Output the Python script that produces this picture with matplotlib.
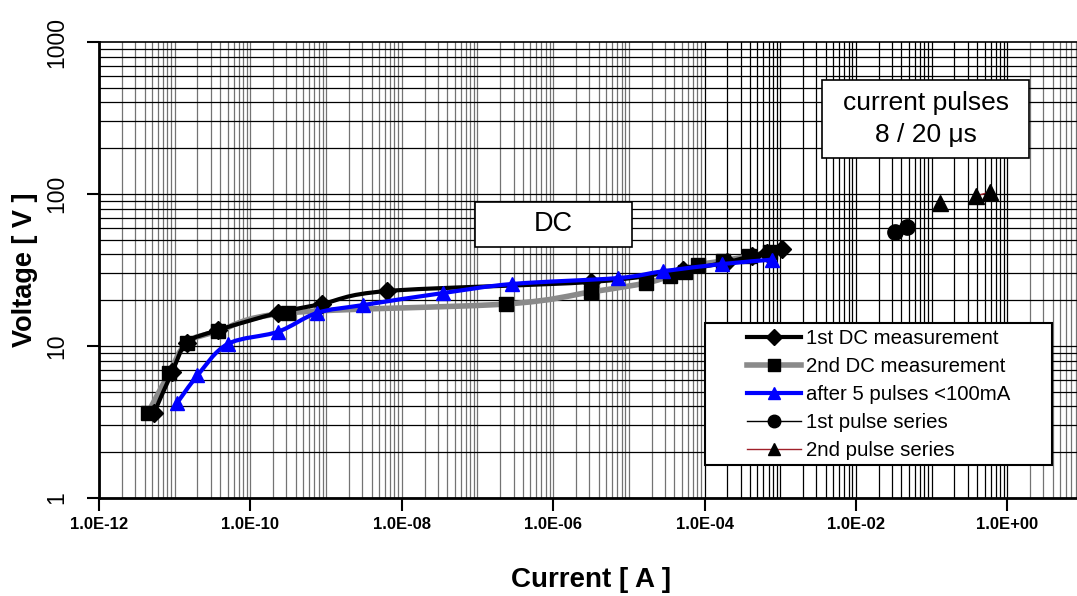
import numpy as np
import matplotlib
matplotlib.use("Agg")
import matplotlib.pyplot as plt
from matplotlib.patches import Rectangle, PathPatch
from matplotlib.path import Path
from matplotlib.lines import Line2D
from matplotlib.ticker import FixedLocator, NullLocator, FuncFormatter

plt.rcParams['font.family'] = ['Liberation Sans', 'DejaVu Sans']

# data (current in A, voltage in V)
dc1_i = [5.3e-12, 9.2e-12, 1.45e-11, 3.7e-11, 2.3e-10, 8.8e-10, 6.4e-9,
         3.2e-6, 5.2e-5, 2.0e-4, 4.2e-4, 6.7e-4, 1.05e-3]
dc1_v = [3.6, 6.7, 10.5, 12.7, 16.5, 18.9, 23.0,
         26.4, 31.6, 35.7, 39.1, 40.9, 43.5]

dc2_i = [4.4e-12, 8.4e-12, 1.45e-11, 3.7e-11, 3.1e-10, 2.4e-7, 3.2e-6,
         1.7e-5, 3.5e-5, 5.5e-5, 8.2e-5, 1.75e-4, 3.9e-4, 7.3e-4]
dc2_v = [3.6, 6.6, 10.5, 12.5, 16.5, 18.9, 22.7,
         26.0, 28.9, 30.7, 34.1, 36.3, 39.1, 41.5]

after_i = [1.07e-11, 2.0e-11, 5.0e-11, 2.3e-10, 7.6e-10, 3.1e-9, 3.5e-8,
           2.9e-7, 7.2e-6, 2.8e-5, 1.7e-4, 7.9e-4]
after_v = [4.2, 6.4, 10.3, 12.4, 16.5, 18.6, 22.3,
           25.6, 28.0, 31.0, 34.6, 37.0]

pulse1_i = [0.033, 0.047]
pulse1_v = [56, 60.7]

# first point of the 2nd series is not joined to the others
pulse2_i = [0.129, np.nan, 0.385, 0.59]
pulse2_v = [87, np.nan, 97, 103]

x_major = [1e-12, 1e-10, 1e-8, 1e-6, 1e-4, 1e-2, 1e0]
y_major = [1, 10, 100, 1000]


# smoothed line like the spreadsheet draws it (bezier through the points,
# control points built in log space)
def smooth_path(xs, ys):
    p = np.column_stack([np.log10(xs), np.log10(ys)])
    pts = np.vstack([p[0], p, p[-1]])
    verts = [p[0]]
    codes = [Path.MOVETO]
    for i in range(1, len(pts) - 2):
        p0, p1, p2, p3 = pts[i - 1:i + 3]
        verts += [p1 + (p2 - p0) / 6, p2 - (p3 - p1) / 6, p2]
        codes += [Path.CURVE4] * 3
    return Path(10.0 ** np.array(verts), codes)


fig = plt.figure(figsize=(10.77, 5.96), dpi=100)
ax = fig.add_axes([99/1077, 98/596, 984/1077, 456/596])
ax.set_xscale('log')
ax.set_yscale('log')
ax.set_xlim(1e-12, 1e1)
ax.set_ylim(1, 1000)

# grid, drawn by hand so the colours can follow the original
for d in range(-12, 1):
    for k in range(1, 10):
        x = k * 10.0 ** d
        c = 'black' if 1e-4 <= x <= 1.0 else '0.45'
        ax.axvline(x, color=c, lw=0.9, zorder=1)
for d in range(0, 3):
    for k in range(1, 10):
        ax.axhline(k * 10.0 ** d, color='black', lw=0.9, zorder=1)

styles = [
    (dc1_i, dc1_v, 'black', 3.0, 'D', 9, 'black', 4, '1st DC measurement'),
    (dc2_i, dc2_v, '#8a8a8a', 4.0, 's', 10, 'black', 3, '2nd DC measurement'),
    (after_i, after_v, '#0000ff', 3.0, '^', 10, '#0000ff', 5, 'after 5 pulses <100mA'),
]
handles = []
for xs, ys, col, lw, mk, ms, mcol, z, lab in styles:
    ax.add_patch(PathPatch(smooth_path(xs, ys), facecolor='none', edgecolor=col,
                           lw=lw, zorder=z, capstyle='round', joinstyle='round'))
    ax.plot(xs, ys, ls='none', marker=mk, ms=ms, mfc=mcol, mec=mcol, zorder=z)
    handles.append(Line2D([], [], color=col, lw=lw, marker=mk, ms=ms - 1,
                          mfc=mcol, mec=mcol, label=lab))

l4, = ax.plot(pulse1_i, pulse1_v, color='black', lw=1, marker='o', ms=11,
              zorder=5, label='1st pulse series')
l5, = ax.plot(pulse2_i, pulse2_v, color='#a0202a', lw=1, marker='^', ms=11,
              mfc='black', mec='black', zorder=5, label='2nd pulse series')
handles.append(Line2D([], [], color='black', lw=1, marker='o', ms=9,
                      label='1st pulse series'))
handles.append(Line2D([], [], color='#a0202a', lw=1, marker='^', ms=9,
                      mfc='black', mec='black', label='2nd pulse series'))

# axes styling
ax.spines['left'].set_linewidth(2)
ax.spines['bottom'].set_linewidth(2)
ax.spines['top'].set_linewidth(1.2)
ax.spines['right'].set_visible(False)

ax.xaxis.set_major_locator(FixedLocator(x_major))
ax.xaxis.set_minor_locator(NullLocator())
ax.xaxis.set_major_formatter(FuncFormatter(lambda v, p: f"{v:.1E}"))
ax.yaxis.set_major_locator(FixedLocator(y_major))
ax.yaxis.set_minor_locator(NullLocator())
ax.yaxis.set_major_formatter(FuncFormatter(lambda v, p: f"{v:g}"))

ax.tick_params(axis='x', direction='out', length=9, width=1.5, pad=5,
               labelsize=12)
ax.tick_params(axis='y', direction='out', length=9, width=1.5, pad=13,
               labelsize=16.5, labelrotation=90)
for t in ax.get_xticklabels():
    t.set_fontweight('bold')
for t in ax.get_yticklabels():
    t.set_va('center')

ax.set_xlabel('Current [ A ]', fontsize=20, fontweight='bold')
ax.xaxis.set_label_coords(0.5, (498 - 580) / 456)
ax.xaxis.label.set_va('center')
ax.set_ylabel('Voltage [ V ]', fontsize=19.5, fontweight='bold')
ax.yaxis.set_label_coords((25 - 99) / 984, 0.5)
ax.yaxis.label.set_va('center')

# text boxes
ax.add_patch(Rectangle((0.382, 0.5504), 0.1596, 0.0987, transform=ax.transAxes,
                       facecolor='white', edgecolor='black', lw=1.2, zorder=6))
ax.text(0.462, 0.600, 'DC', transform=ax.transAxes, fontsize=19.5,
        ha='center', va='center', zorder=7)
ax.add_patch(Rectangle((0.7348, 0.7456), 0.2104, 0.171, transform=ax.transAxes,
                       facecolor='white', edgecolor='black', lw=1.2, zorder=6))
ax.text(0.840, 0.831, 'current pulses\n8 / 20 μs', transform=ax.transAxes,
        fontsize=19, ha='center', va='center', linespacing=1.4, zorder=7)

# legend with its own box
ax.add_patch(Rectangle((0.6159, 0.0724), 0.3526, 0.3114, transform=ax.transAxes,
                       facecolor='white', edgecolor='black', lw=1.5, zorder=8))
leg = ax.legend(handles=handles, loc='upper left',
                bbox_to_anchor=(0.6585, 0.370), frameon=False, fontsize=14.7,
                borderpad=0, borderaxespad=0, handlelength=2.64,
                handletextpad=0.25, labelspacing=0.44)
leg.set_zorder(9)

fig.savefig('out.png', dpi=100)
